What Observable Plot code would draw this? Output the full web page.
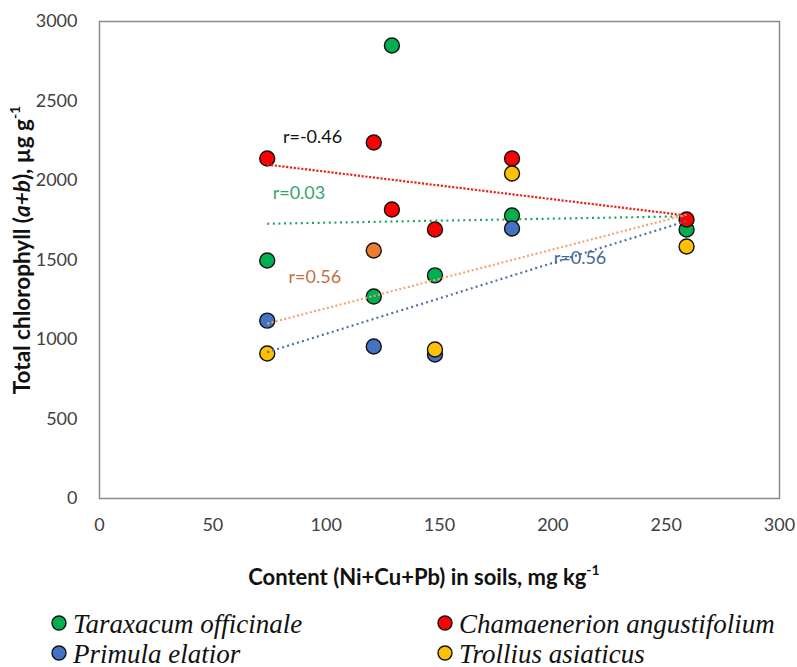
<!DOCTYPE html>
<html>
<head>
<meta charset="utf-8">
<script src="https://cdn.jsdelivr.net/npm/d3@7"></script>
<script src="https://cdn.jsdelivr.net/npm/@observablehq/plot@0.6"></script>
<style>
  html, body { margin: 0; padding: 0; background: #fff; }
  #chart svg { display: block; }
  #legend { display: block; }
</style>
</head>
<body>
<div id="chart"></div>
<svg id="legend" width="797" height="67"></svg>
<script>
// ---- data ----
const contentX = [74, 121, 129, 148, 182, 259];
const taraxacum = [1497, 1270, 2849, 1403, 1780, 1692];
const chamaenerion = [2138, 2239, 1818, 1692, 2138, 1755];
const primula = [1119, 956, null, 906, 1698, null];
const trollius = [912, null, null, 937, 2044, 1585];
const extraX = [121];
const extraY = [1560];

const speciesNames = ["Taraxacum officinale", "Chamaenerion angustifolium", "Primula elatior", "Trollius asiaticus", "other"];
const speciesColors = ["#00B050", "#FF0000", "#4472C4", "#FFC000", "#ED7D31"];

// trend lines: endpoints in data units
const trendKeys = ["red", "green", "orange", "blue"];
const trendX1 = [74, 74, 74, 74];
const trendY1 = [2100, 1728, 1100, 920];
const trendX2 = [259, 259, 259, 259];
const trendY2 = [1780, 1775, 1785, 1745];
const trendColors = ["#E8231A", "#1FA55A", "#F2A46E", "#4F6FA8"];
const trendDash = ["2.2,1.6", "2,3.6", "2,2.4", "2,3.2"];

// correlation labels
const rText = ["r=-0.46", "r=0.03", "r=0.56", "r=0.56"];
const rX = [94, 88, 95, 212];
const rY = [2270, 1918, 1390, 1509];
const rColors = ["#111111", "#33A56A", "#C0703E", "#4A6593"];

const xTicks = [0, 50, 100, 150, 200, 250, 300];
const yTicks = [0, 500, 1000, 1500, 2000, 2500, 3000];

// ---- build tables ----
const points = [];
const seriesVals = [taraxacum, chamaenerion, primula, trollius];
[0, 1, 2, 3].forEach(si => {
  seriesVals[si].forEach((v, i) => {
    if (v != null) points.push({x: contentX[i], y: v, s: speciesNames[si]});
  });
});
extraX.forEach((x, i) => points.push({x, y: extraY[i], s: "other"}));

const trends = trendKeys.map((k, i) => ({x1: trendX1[i], y1: trendY1[i], x2: trendX2[i], y2: trendY2[i], c: trendColors[i], d: trendDash[i]}));
const labels = rText.map((t, i) => ({t, x: rX[i], y: rY[i], c: rColors[i]}));

const plot = Plot.plot({
  width: 797,
  height: 600,
  marginLeft: 99,
  marginRight: 18,
  marginTop: 21,
  marginBottom: 102,
  style: {fontFamily: "Lato, sans-serif", fontSize: "18px", color: "#333", background: "#fff"},
  x: {domain: [0, 300]},
  y: {domain: [0, 3000]},
  color: {domain: speciesNames, range: speciesColors},
  marks: [
    Plot.axisX({ticks: xTicks, tickFormat: d3.format("d"), tickSize: 0, tickPadding: 20, label: null, fill: "#404040"}),
    Plot.axisY({ticks: yTicks, tickFormat: d3.format("d"), tickSize: 0, tickPadding: 22, label: null, fill: "#404040"}),
    Plot.frame({stroke: "#8c8c8c", strokeWidth: 1.5}),
    Plot.dot(points, {x: "x", y: "y", fill: "s", stroke: "#111", strokeWidth: 1.4, r: 7.5}),
    ...trends.map(t => Plot.link([t], {x1: "x1", y1: "y1", x2: "x2", y2: "y2", stroke: t.c, strokeWidth: 2.2, strokeDasharray: t.d})),
    Plot.text(labels, {x: "x", y: "y", text: "t", fill: "c", fontSize: 18, fontFamily: "Lato, sans-serif"})
  ]
});
document.getElementById("chart").appendChild(plot);

// ---- axis titles (rich text) ----
const svg = d3.select(plot);
const xt = svg.append("text")
  .attr("x", 424).attr("y", 585)
  .attr("text-anchor", "middle")
  .attr("font-family", "Lato, sans-serif").attr("font-weight", "bold").attr("font-size", 22)
  .attr("fill", "#111");
xt.append("tspan").text("Content (Ni+Cu+Pb) in soils, mg kg");
xt.append("tspan").attr("font-size", 14).attr("dy", "-0.75em").text("-1");

const yt = svg.append("text")
  .attr("transform", "translate(30,250) rotate(-90)")
  .attr("text-anchor", "middle")
  .attr("font-family", "Lato, sans-serif").attr("font-weight", "bold").attr("font-size", 22.5)
  .attr("fill", "#111");
yt.append("tspan").text("Total chlorophyll (");
yt.append("tspan").attr("font-style", "italic").text("a+b");
yt.append("tspan").text("), µg g");
yt.append("tspan").attr("font-size", 14).attr("dy", "-0.75em").text("-1");

// ---- legend ----
const legendItems = [
  {name: speciesNames[0], color: speciesColors[0], cx: 59, row: 0},
  {name: speciesNames[1], color: speciesColors[1], cx: 445, row: 0},
  {name: speciesNames[2], color: speciesColors[2], cx: 59, row: 1},
  {name: speciesNames[3], color: speciesColors[3], cx: 445, row: 1}
];
const lg = d3.select("#legend");
legendItems.forEach(it => {
  const cy = 23 + it.row * 30;
  lg.append("circle").attr("cx", it.cx).attr("cy", cy).attr("r", 7)
    .attr("fill", it.color).attr("stroke", "#111").attr("stroke-width", 1.4);
  lg.append("text")
    .attr("x", it.cx + 14).attr("y", cy + 9.5)
    .attr("font-family", "Liberation Serif")
    .style("font-family", "'Liberation Serif', 'DejaVu Serif', serif")
    .style("font-style", "italic")
    .style("font-size", "27px")
    .style("fill", "#111")
    .text(it.name);
});
</script>
</body>
</html>
